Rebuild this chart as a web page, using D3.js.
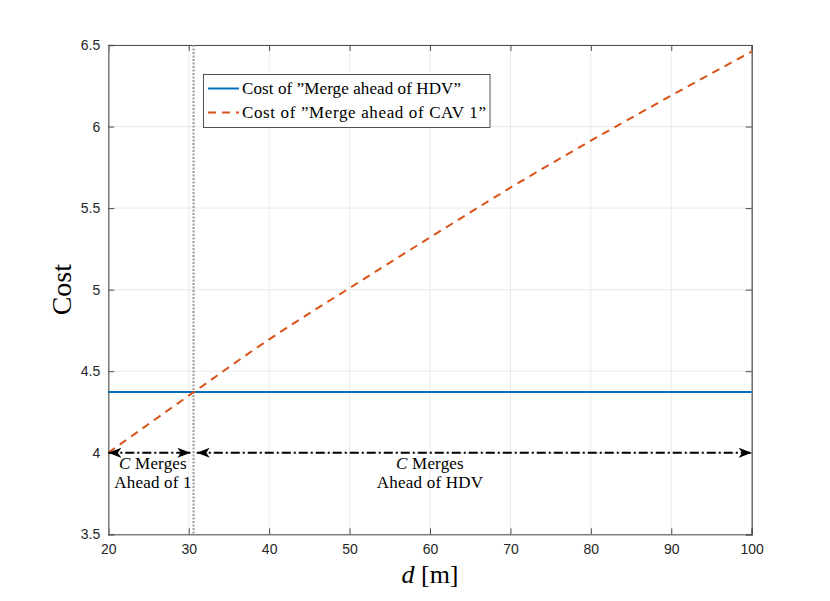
<!DOCTYPE html>
<html><head><meta charset="utf-8">
<script src="https://cdn.jsdelivr.net/npm/d3@7"></script>
<style>body{margin:0;background:#fff}</style>
</head><body>
<svg id="c" width="830" height="601"></svg>
<script>
const dValues = [20, 30, 40, 50, 60, 70, 80, 90, 100];
const costHDV = [4.372, 4.372, 4.372, 4.372, 4.372, 4.372, 4.372, 4.372, 4.372];
const costCAV1 = [4.00, 4.35, 4.695, 5.01, 5.32, 5.625, 5.913, 6.19, 6.46];
const xTicks = [20, 30, 40, 50, 60, 70, 80, 90, 100];
const yTicks = [3.5, 4, 4.5, 5, 5.5, 6, 6.5];
const switchD = 30.6;
const arrowLeft = [20, 30.2];
const arrowRight = [31.0, 100];
const arrowY = 4.0;
const legendLabels = ['Cost of \u201dMerge ahead of HDV\u201d', 'Cost of \u201dMerge ahead of CAV 1\u201d'];

const svg = d3.select('#c');
const L = 108.3, R = 751.7, T = 45, B = 534.3;
const x = d3.scaleLinear().domain([20, 100]).range([L, R]);
const y = d3.scaleLinear().domain([3.5, 6.5]).range([B, T]);
const serif = '"Liberation Serif", "DejaVu Serif", serif';
const sans = '"Liberation Sans", Arial, sans-serif';

// grid
svg.append('g').selectAll('line').data(xTicks).join('line')
  .attr('x1', d => x(d)).attr('x2', d => x(d)).attr('y1', T).attr('y2', B)
  .attr('stroke', '#ebebeb').attr('stroke-width', 1);
svg.append('g').selectAll('line').data(yTicks).join('line')
  .attr('y1', d => y(d)).attr('y2', d => y(d)).attr('x1', L).attr('x2', R)
  .attr('stroke', '#ebebeb').attr('stroke-width', 1);

// axes with inward ticks
const axCol = '#4d4d4d';
const gx = svg.append('g').attr('transform', `translate(0,${B})`)
  .call(d3.axisBottom(x).tickValues(xTicks).tickSize(-6).tickPadding(10).tickFormat(d3.format('d')));
const gxt = svg.append('g').attr('transform', `translate(0,${T})`)
  .call(d3.axisTop(x).tickValues(xTicks).tickSize(-6).tickFormat(''));
const gy = svg.append('g').attr('transform', `translate(${L},0)`)
  .call(d3.axisLeft(y).tickValues(yTicks).tickSize(-6).tickPadding(8).tickFormat(d => d));
const gyr = svg.append('g').attr('transform', `translate(${R},0)`)
  .call(d3.axisRight(y).tickValues(yTicks).tickSize(-6).tickFormat(''));
[gx, gxt, gy, gyr].forEach(g => {
  g.select('.domain').attr('stroke', axCol).attr('stroke-width', 1.2);
  g.selectAll('.tick line').attr('stroke', axCol).attr('stroke-width', 1);
  g.selectAll('.tick text').attr('fill', '#262626').style('font-family', sans).style('font-size', '14px');
});
gx.select('.domain').attr('stroke', '#808080').attr('stroke-width', 1.6);
gy.select('.domain').attr('stroke', '#808080').attr('stroke-width', 1.6);

// vertical dotted line
svg.append('line').attr('x1', x(switchD)).attr('x2', x(switchD)).attr('y1', T).attr('y2', B)
  .attr('stroke', '#999').attr('stroke-width', 2).attr('stroke-dasharray', '2,1.5');

// series
const line = d3.line().x(d => x(d[0])).y(d => y(d[1]));
svg.append('path').datum(dValues.map((d, i) => [d, costHDV[i]])).attr('d', line)
  .attr('fill', 'none').attr('stroke', '#0072BD').attr('stroke-width', 2);
svg.append('path').datum(dValues.map((d, i) => [d, costCAV1[i]])).attr('d', d3.line().x(d => x(d[0])).y(d => y(d[1])).curve(d3.curveMonotoneX))
  .attr('fill', 'none').attr('stroke', '#D95319').attr('stroke-width', 2).attr('stroke-dasharray', '8,6');

// arrows
const defs = svg.append('defs');
defs.append('marker').attr('id', 'ah').attr('viewBox', '0 0 13 10').attr('refX', 13).attr('refY', 5)
  .attr('markerWidth', 13).attr('markerHeight', 10).attr('markerUnits', 'userSpaceOnUse').attr('orient', 'auto-start-reverse')
  .append('path').attr('d', 'M0,0 L13,5 L0,10 L3.5,5 Z').attr('fill', '#000');
[arrowLeft, arrowRight].forEach(a => {
  svg.append('line').attr('x1', x(a[0])).attr('x2', x(a[1])).attr('y1', y(arrowY)).attr('y2', y(arrowY))
    .attr('stroke', '#000').attr('stroke-width', 2).attr('stroke-dasharray', '9,3,2,3')
    .attr('marker-start', 'url(#ah)').attr('marker-end', 'url(#ah)');
});

// annotations
function note(cx, lines) {
  const t = svg.append('text').attr('text-anchor', 'middle').style('font-family', serif).style('font-size', '17px')
    .style('letter-spacing', '0.2px').attr('fill', '#000');
  lines.forEach((ln, i) => {
    const ts = t.append('tspan').attr('x', cx).attr('y', 469 + i * 19);
    if (i === 0) {
      ts.append('tspan').style('font-style', 'italic').text('C');
      ts.append('tspan').text(' Merges');
    } else ts.text(ln);
  });
}
note(153, ['C Merges', 'Ahead of 1']);
note(430, ['C Merges', 'Ahead of HDV']);

// legend
const lg = svg.append('g');
lg.append('rect').attr('x', 203.5).attr('y', 74.5).attr('width', 286.5).attr('height', 53)
  .attr('fill', '#fff').attr('stroke', '#262626').attr('stroke-width', 0.8);
lg.append('line').attr('x1', 208).attr('x2', 239).attr('y1', 88.5).attr('y2', 88.5).attr('stroke', '#0072BD').attr('stroke-width', 2);
lg.append('line').attr('x1', 208).attr('x2', 239).attr('y1', 112.5).attr('y2', 112.5).attr('stroke', '#D95319').attr('stroke-width', 2).attr('stroke-dasharray', '8,6');
const legLens = [219, 244];
legendLabels.forEach((s, i) => {
  lg.append('text').attr('x', 242).attr('y', 94 + i * 24).style('font-family', serif).style('font-size', '17px')
    .attr('textLength', legLens[i]).attr('lengthAdjust', 'spacing').attr('fill', '#000').text(s);
});

// axis labels
svg.append('text').attr('transform', `translate(71,${(T + B) / 2}) rotate(-90)`).attr('text-anchor', 'middle')
  .style('font-family', serif).style('font-size', '28px').attr('fill', '#000').text('Cost');
const xl = svg.append('text').attr('x', (L + R) / 2).attr('y', 583).attr('text-anchor', 'middle')
  .style('font-family', serif).style('font-size', '26px').attr('fill', '#000');
xl.append('tspan').style('font-style', 'italic').text('d');
xl.append('tspan').text(' [m]');
</script>
</body></html>
